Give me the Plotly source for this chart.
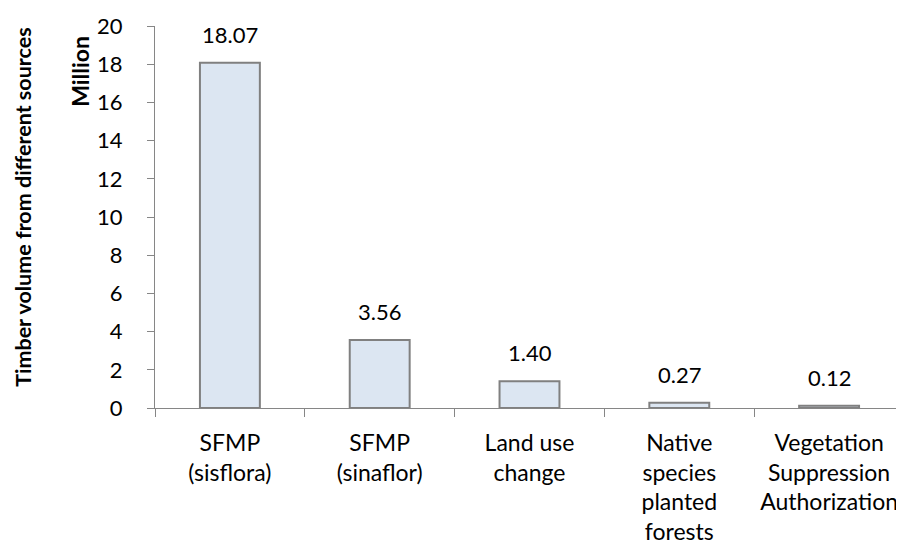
import plotly.graph_objects as go

categories = ["SFMP<br>(sisflora)", "SFMP<br>(sinaflor)", "Land use<br>change",
              "Native<br>species<br>planted<br>forests", "Vegetation<br>Suppression<br>Authorization"]
values = [18.07, 3.56, 1.40, 0.27, 0.12]
y_ticks = [0, 2, 4, 6, 8, 10, 12, 14, 16, 18, 20]

FONT = "Lato, Open Sans, sans-serif"
AX = "#868686"

fig = go.Figure(go.Bar(
    x=categories, y=values,
    marker=dict(color="#DCE6F2", line=dict(color="#808080", width=2)),
    cliponaxis=False,
))

labels = [dict(x=c, y=v, xref="x", yref="y", text=f"{v:.2f}", showarrow=False,
               yanchor="bottom", yshift=13, font=dict(family=FONT, size=22, color="#000000"))
          for c, v in zip(categories, values)]

# page body has an 8px default margin: figure is sized to fill the remaining window
fig.update_layout(
    width=896, height=540,
    margin=dict(l=147, r=0, t=18, b=140),
    paper_bgcolor="white", plot_bgcolor="white",
    bargap=0.6, showlegend=False,
    font=dict(family=FONT, size=22, color="#000000"),
    xaxis=dict(type="category", showline=True, linecolor=AX, linewidth=1,
               ticks="outside", ticklen=8, tickcolor=AX, tickson="boundaries",
               showgrid=False, automargin=False, ticklabelstandoff=14,
               tickfont=dict(family=FONT, size=23)),
    yaxis=dict(range=[0, 20], tickvals=y_ticks, showline=True, linecolor=AX, linewidth=1,
               ticks="outside", ticklen=7, tickcolor=AX, showgrid=False, zeroline=False,
               automargin=False, ticklabelstandoff=20,
               tickfont=dict(family=FONT, size=22)),
    annotations=labels + [
        dict(text="<b>Timber volume from different sources</b>", textangle=-90,
             xref="paper", yref="paper", x=0, y=0.524, xshift=-132,
             xanchor="center", yanchor="middle",
             showarrow=False, font=dict(family=FONT, size=21.5)),
        dict(text="<b>Million</b>", textangle=-90,
             xref="paper", yref="paper", x=0, y=0.88, xshift=-75,
             xanchor="center", yanchor="middle",
             showarrow=False, font=dict(family=FONT, size=23)),
    ],
)

fig.write_html("out.html")
